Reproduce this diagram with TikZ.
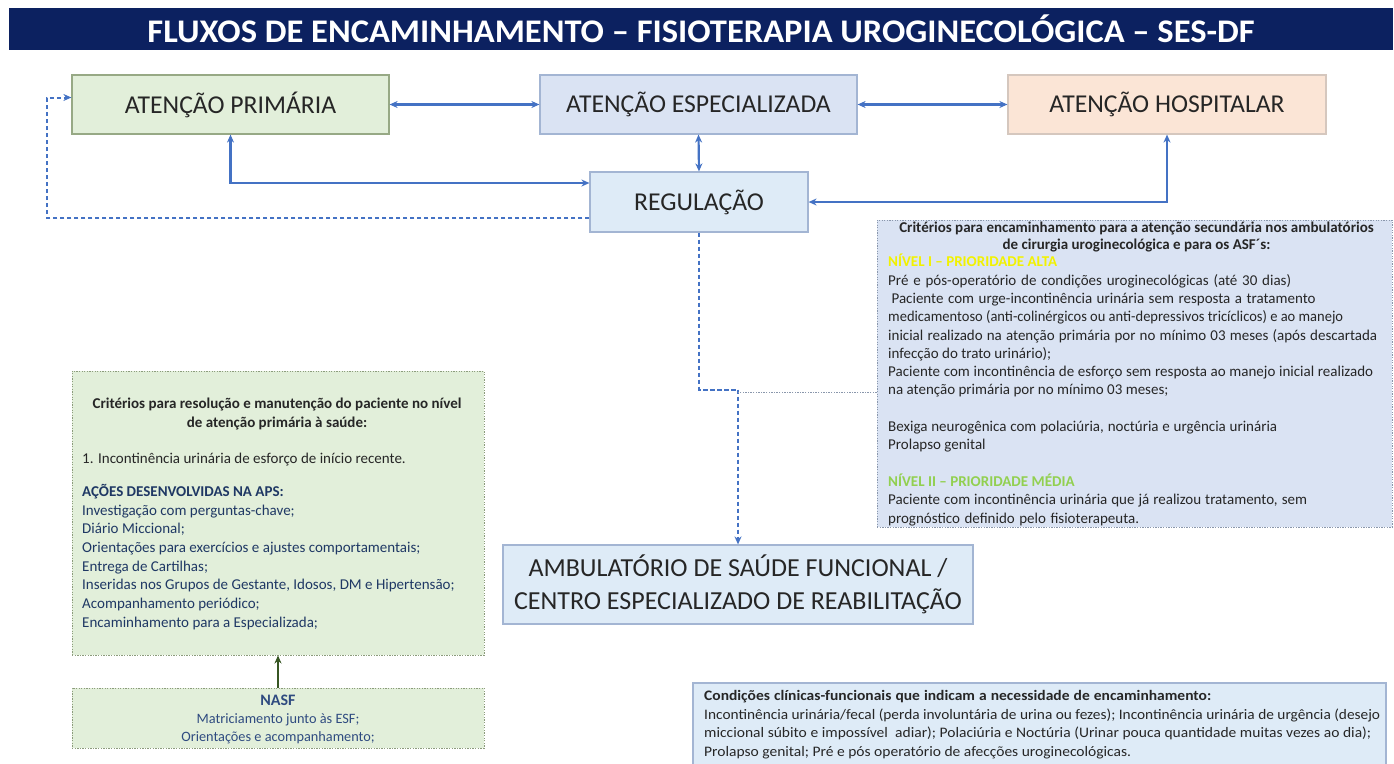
\documentclass[tikz,border=0pt]{standalone}
\usepackage{fontspec}
\setmainfont{Carlito}
\newfontfamily\wideB[FakeStretch=1.07]{Carlito}
\usetikzlibrary{arrows.meta}
\newlength\fitlen
\newcommand\fitline[2]{\settowidth\fitlen{#2}\ifdim\fitlen<#1\makebox[#1][s]{#2}\else\resizebox{#1}{\height}{#2}\fi}
\definecolor{navy}{RGB}{12,33,96}
\definecolor{gfill}{HTML}{E2EFDA}
\definecolor{gline}{HTML}{97A985}
\definecolor{bfill}{HTML}{DAE3F3}
\definecolor{bline}{HTML}{A3B5D3}
\definecolor{pfill}{HTML}{FBE5D6}
\definecolor{pline}{HTML}{D5C7BE}
\definecolor{rfill}{HTML}{DEEBF7}
\definecolor{arrblue}{HTML}{4472C4}
\definecolor{txt}{HTML}{262626}
\definecolor{dblue}{HTML}{1F3864}
\definecolor{nblue}{HTML}{2F4B80}
\definecolor{dgreen}{HTML}{375623}
\definecolor{yel}{HTML}{F2F200}
\definecolor{lgrn}{HTML}{92D050}
\definecolor{dotline}{HTML}{8A97AC}
\definecolor{dotgreen}{HTML}{8C9C7C}
\begin{document}
\begin{tikzpicture}[x=1pt,y=-1pt,
  mainbox/.style={draw, line width=1.2pt, inner sep=0pt, text=txt,
    font=\fontsize{25.7}{30}\selectfont},
  arr/.style={draw=arrblue, line width=2.2pt, {Stealth[length=8pt,width=7pt]}-{Stealth[length=8pt,width=7pt]}},
  darr/.style={draw=arrblue, line width=2pt, dash pattern=on 4.5pt off 2.5pt, -{Stealth[length=8pt,width=7pt]}},
  textbox/.style={draw, line width=1pt, dash pattern=on 1.3pt off 1.3pt, inner sep=0pt},
  para/.style={inner sep=0pt, align=left, anchor=north west, text=txt},
]
\useasboundingbox (0,0) rectangle (1394,763);
\fill[white] (0,0) rectangle (1394,763);

% title bar
\node[fill=navy, minimum width=1384pt, minimum height=42pt, inner sep=0pt] (title) at (701,29)
  {\resizebox{1107pt}{\height}{\color{white}\bfseries\fontsize{33}{36}\selectfont FLUXOS DE ENCAMINHAMENTO – FISIOTERAPIA UROGINECOLÓGICA – SES-DF}};

% main boxes
\node[mainbox, fill=gfill, draw=gline, minimum width=317pt, minimum height=59pt] (AP) at (230.5,104.5) {ATENÇÃO PRIMÁRIA};
\node[mainbox, fill=bfill, draw=bline, minimum width=317pt, minimum height=59pt] (AE) at (698.5,104.5) {ATENÇÃO ESPECIALIZADA};
\node[mainbox, fill=pfill, draw=pline, minimum width=318pt, minimum height=59pt] (AH) at (1167,104.5) {ATENÇÃO HOSPITALAR};
\node[mainbox, fill=rfill, draw=bline, minimum width=218pt, minimum height=60pt] (REG) at (699,202) {REGULAÇÃO};
\node[mainbox, fill=rfill, draw=bline, minimum width=470pt, minimum height=79pt, align=center,
  font=\fontsize{26}{33}\selectfont] (AMB) at (738,584.5) {AMBULATÓRIO DE SAÚDE FUNCIONAL /\\CENTRO ESPECIALIZADO DE REABILITAÇÃO};

% text boxes
\node[textbox, fill=bfill, draw=dotline, minimum width=515pt, minimum height=307pt] (CR) at (1134.5,373.5) {};
\node[textbox, fill=gfill, draw=dotgreen, minimum width=412pt, minimum height=284pt] (LB) at (278,513) {};
\node[textbox, fill=gfill, draw=dotgreen, minimum width=412pt, minimum height=60pt] (NASF) at (278,718) {};
\node[draw=bline, line width=1.2pt, fill=rfill, minimum width=693pt, minimum height=95pt, inner sep=0pt] (CC) at (1039.5,730.5) {};

% connectors
\draw[arr] (AP.east) -- (AE.west);
\draw[arr] (AE.east) -- (AH.west);
\draw[arr] (AE.south) -- (REG.north);
\draw[arr] (AP.south) |- ([yshift=19pt]REG.west);
\draw[arr] (AH.south) |- (REG.east);
\draw[darr] ([yshift=-16pt]REG.west) -- ++(-542,0) |- ([yshift=7pt]AP.west);
\draw[darr] (REG.south) -- ++(0,157) -| (AMB.north);
\draw[draw=dotline, line width=1pt, dash pattern=on 1.3pt off 1.3pt] ([yshift=-18.5pt]CR.west) -- ++(-139,0);
\draw[draw=dgreen, line width=2pt, -{Stealth[length=8pt,width=7pt]}] (NASF.north) -- (LB.south);

% criteria (right) text
\node[inner sep=0pt, align=center, text=txt, font=\bfseries\fontsize{15}{16.5}\selectfont] (CRt) at (1136.5,237)
  {Critérios para encaminhamento para a atenção secundária nos ambulatórios\\de cirurgia uroginecológica e para os ASF´s:};
\node[para, font=\fontsize{15}{18.3}\selectfont] (CRb) at (888,254)
  {{\bfseries\color{yel}NÍVEL I – PRIORIDADE ALTA}\\
  \fitline{403pt}{Pré e pós-operatório de condições uroginecológicas (até 30 dias)}\\
  \ \fitline{424pt}{Paciente com urge-incontinência urinária sem resposta a tratamento}\\
  \fitline{455pt}{medicamentoso (anti-colinérgicos ou anti-depressivos tricíclicos) e ao manejo}\\
  \fitline{489pt}{inicial realizado na atenção primária por no mínimo 03 meses (após descartada}\\
  infecção do trato urinário);\\
  \fitline{485pt}{Paciente com incontinência de esforço sem resposta ao manejo inicial realizado}\\
  na atenção primária por no mínimo 03 meses;\\[18.3pt]
  \fitline{389pt}{Bexiga neurogênica com polaciúria, noctúria e urgência urinária}\\
  Prolapso genital\\[18.3pt]
  {\bfseries\color{lgrn}NÍVEL II – PRIORIDADE MÉDIA}\\
  \fitline{419pt}{Paciente com incontinência urinária que já realizou tratamento, sem}\\
  \fitline{251pt}{prognóstico definido pelo fisioterapeuta.}};

% left box text
\node[inner sep=0pt, align=center, text=txt, font=\bfseries\fontsize{15}{19}\selectfont] (LBt) at (277,413.5)
  {Critérios para resolução e manutenção do paciente no nível\\de atenção primária à saúde:};
\node[para, font=\fontsize{15}{18.7}\selectfont] (LB1) at (82,453) {1. Incontinência urinária de esforço de início recente.};
\node[para, text=dblue, font=\fontsize{15}{18.7}\selectfont] (LBb) at (82,484)
  {{\bfseries AÇÕES DESENVOLVIDAS NA APS:}\\
  Investigação com perguntas-chave;\\
  Diário Miccional;\\
  Orientações para exercícios e ajustes comportamentais;\\
  Entrega de Cartilhas;\\
  Inseridas nos Grupos de Gestante, Idosos, DM e Hipertensão;\\
  Acompanhamento periódico;\\
  Encaminhamento para a Especializada;};

% NASF text
\node[inner sep=0pt, align=center, text=nblue, font=\fontsize{14.3}{18}\selectfont] (NASFt) at (278,719)
  {{\bfseries\fontsize{16}{18}\selectfont NASF}\\Matriciamento junto às ESF;\\Orientações e acompanhamento;};

% bottom right text
\node[para, font=\wideB\fontsize{14.5}{18.8}\selectfont] (CCt) at (704,690)
  {\fitline{507pt}{\bfseries Condições clínicas-funcionais que indicam a necessidade de encaminhamento:}\\
  \fitline{676pt}{Incontinência urinária/fecal (perda involuntária de urina ou fezes); Incontinência urinária de urgência (desejo}\\
  \fitline{667pt}{miccional súbito e impossível\ \ adiar); Polaciúria e Noctúria (Urinar pouca quantidade muitas vezes ao dia);}\\
  Prolapso genital; Pré e pós operatório de afecções uroginecológicas.};
\end{tikzpicture}
\end{document}
